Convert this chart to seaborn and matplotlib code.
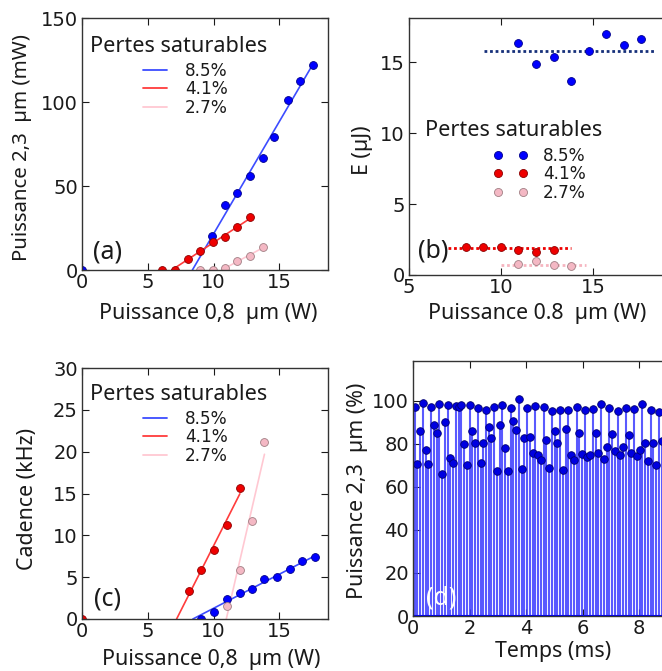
import numpy as np
import matplotlib
matplotlib.use("Agg")
import matplotlib.pyplot as plt
from matplotlib.lines import Line2D
import seaborn as sns

# ------------------------------------------------------------------ data
series = ["8.5%", "4.1%", "2.7%"]

# (a) Puissance 2,3 µm (mW) vs Puissance 0,8 µm (W)
a_x_85 = [0.0, 9.92, 10.89, 11.82, 12.78, 13.75, 14.63, 15.65, 16.6, 17.54]
a_y_85 = [0.0, 20.4, 38.6, 45.6, 56.0, 66.6, 79.4, 101.4, 112.6, 122.0]
a_x_41 = [6.1, 7.09, 8.05, 8.99, 9.95, 10.89, 11.82, 12.78]
a_y_41 = [0.0, 0.0, 6.4, 11.6, 16.4, 19.6, 25.4, 31.6]
a_x_27 = [8.99, 9.95, 10.89, 11.82, 12.78, 13.75]
a_y_27 = [0.0, 0.0, 1.0, 5.6, 8.6, 13.4]

# (b) E (µJ) vs Puissance 0.8 µm (W)
b_x_85 = [10.94, 11.92, 12.86, 13.82, 14.78, 15.72, 16.68, 17.63]
b_y_85 = [16.34, 14.88, 15.33, 13.69, 15.75, 17.0, 16.2, 16.62]
b_x_41 = [8.08, 9.04, 9.98, 10.94, 11.92, 12.86]
b_y_41 = [1.97, 2.0, 2.0, 1.74, 1.64, 1.78]
b_x_27 = [10.94, 11.92, 12.86, 13.82]
b_y_27 = [0.77, 0.99, 0.70, 0.61]
b_level = [15.8, 1.9, 0.68]                      # mean energy lines
b_span = [(9.1, 18.3), (7.1, 13.8), (10.0, 14.6)]  # extent of mean lines

# (c) Cadence (kHz) vs Puissance 0,8 µm (W)
c_x_85 = [9.06, 10.03, 10.99, 12.0, 12.94, 13.87, 14.86, 15.82, 16.76, 17.72]
c_y_85 = [0.0, 0.88, 2.36, 3.08, 3.6, 4.76, 5.04, 5.96, 6.96, 7.36]
c_x_41 = [0.0, 8.13, 9.06, 10.03, 10.99, 12.0]
c_y_41 = [0.0, 3.4, 5.8, 8.2, 11.28, 15.68]
c_x_27 = [11.01, 12.0, 12.94, 13.87]
c_y_27 = [1.6, 5.8, 11.76, 21.2]

# (d) pulse train: Puissance 2,3 µm (%) vs Temps (ms)
d_t0 = 0.059      # time of first pulse (ms)
d_period = 0.0971  # pulse period (ms)
d_peak = [97.2, 70.7, 86.0, 99.2, 77.4, 70.7, 97.4, 88.7, 85.3, 98.4,
          66.2, 90.4, 98.3, 73.5, 71.3, 97.7, 97.4, 98.0, 80.0, 70.2,
          98.0, 86.2, 80.3, 96.9, 71.3, 80.3, 95.7, 87.8, 82.6, 97.4,
          67.3, 89.0, 98.0, 78.1, 67.6, 96.7, 90.9, 86.4, 100.8, 68.5,
          82.6, 96.6, 83.1, 75.7, 97.5, 75.0, 72.7, 97.2, 82.0, 69.0,
          95.3, 86.2, 80.3, 95.8, 68.1, 86.8, 95.7, 75.0, 72.4, 97.2,
          85.1, 75.5, 95.7, 74.0, 75.0, 96.4, 85.1, 75.8, 98.4, 72.9,
          78.6, 96.9, 84.5, 76.9, 95.5, 74.7, 78.7, 96.9, 84.3, 75.8,
          96.1, 74.3, 77.2, 98.8, 80.6, 71.9, 95.8, 80.6, 70.4, 94.9,
          81.2]

# ------------------------------------------------------------------ style
sns.set_style("ticks")
plt.rcParams.update({
    "font.family": ["DejaVu Sans"],
    "xtick.direction": "in", "ytick.direction": "in",
    "xtick.top": True, "ytick.right": True,
    "xtick.major.size": 5, "ytick.major.size": 5,
    "xtick.major.width": 0.8, "ytick.major.width": 0.8,
    "xtick.labelsize": 14, "ytick.labelsize": 14,
    "xtick.color": "#1a1a1a", "ytick.color": "#1a1a1a",
    "axes.edgecolor": "#333333", "axes.linewidth": 1.0,
})
LBL = dict(family=["Noto Sans", "DejaVu Sans"], fontsize=15.4, color="#1a1a1a")
TITLE = dict(family=["Noto Sans"], fontsize=15.6, color="#1a1a1a")
LEG_FS = 12.2

C_BLUE, C_RED, C_PINK = "#0000ff", "#ee0000", "#f4b8c4"
E_BLUE, E_RED, E_PINK = "#00008b", "#8b0000", "#a07f84"
L_BLUE, L_RED, L_PINK = "#3c4cff", "#ff3c3c", "#ffc8d2"
mk = dict(s=32, linewidth=0.6, zorder=4)

W, H = 662, 671
fig = plt.figure(figsize=(W / 100, H / 100), dpi=100)

ax_a = fig.add_axes([82 / W, 1 - 270 / H, 246 / W, 252 / H])
ax_b = fig.add_axes([409 / W, 1 - 275 / H, 276 / W, 257 / H])
ax_c = fig.add_axes([82 / W, 1 - 619 / H, 246 / W, 251 / H])
ax_d = fig.add_axes([413 / W, 1 - 616 / H, 282.5 / W, 255 / H])


def px_to_axes(ax, px, py):
    """figure pixel (from top-left) -> axes fraction"""
    inv = ax.transAxes.inverted()
    return tuple(inv.transform((px, H - py)))


def fit_line(ax, xs, ys, color, label):
    xs = np.asarray(xs); ys = np.asarray(ys)
    m = ys > 0
    k, b0 = np.polyfit(xs[m], ys[m], 1)
    x0 = -b0 / k
    xx = np.array([x0, xs[m].max()])
    sns.lineplot(x=xx, y=k * xx + b0, ax=ax, color=color, lw=1.2,
                 label=label, estimator=None, sort=False, zorder=3)


def legend_block(ax, handles, title_xy, entry_xy, hl, htp, numpoints=1):
    tx, ty = px_to_axes(ax, *title_xy)
    ax.text(tx, ty, "Pertes saturables", transform=ax.transAxes,
            ha="left", va="center", **TITLE)
    ex, ey = px_to_axes(ax, *entry_xy)
    lg = ax.legend(handles, series, loc="upper left", bbox_to_anchor=(ex, ey),
                   frameon=False, fontsize=LEG_FS, numpoints=numpoints,
                   borderpad=0, borderaxespad=0, labelspacing=0.02,
                   handlelength=hl, handletextpad=htp)
    for t in lg.get_texts():
        t.set_color("#1a1a1a")
    return lg


def style_axis(ax):
    ax.tick_params(axis="x", pad=2)
    ax.tick_params(axis="y", pad=3)
    for s in ax.spines.values():
        s.set_zorder(6)


line_handles = [Line2D([], [], color=c, lw=1.3) for c in (L_BLUE, L_RED, L_PINK)]

# ---------------------------------------------------------------- (a)
for xs, ys, fc, ec, lc, lab in [(a_x_85, a_y_85, C_BLUE, E_BLUE, L_BLUE, series[0]),
                                (a_x_41, a_y_41, C_RED, E_RED, L_RED, series[1]),
                                (a_x_27, a_y_27, C_PINK, E_PINK, L_PINK, series[2])]:
    fit_line(ax_a, xs, ys, lc, lab)
    sns.scatterplot(x=xs, y=ys, ax=ax_a, color=fc, edgecolor=ec, **mk)
ax_a.set_xlim(0, 18.7); ax_a.set_ylim(0, 150)
ax_a.set_xticks([0, 5, 10, 15]); ax_a.set_yticks([0, 50, 100, 150])
ax_a.set_xlabel("Puissance 0,8  µm (W)", **LBL)
ax_a.set_ylabel("Puissance 2,3  µm (mW)", **{**LBL, "fontsize": 14.7})
ax_a.xaxis.set_label_coords(0.512, -0.171)
ax_a.yaxis.set_label_coords(-0.244, 0.485)
ax_a.text(0.104, 0.071, "(a)", transform=ax_a.transAxes, ha="center", va="center",
          family=["Noto Sans"], fontsize=18, color="#1a1a1a")
legend_block(ax_a, line_handles, (90, 47), (143, 62), 1.42, 1.07)
style_axis(ax_a)

# ---------------------------------------------------------------- (b)
dot_cols = ["#16307a", C_RED, "#f6b5c0"]
for (xs, ys, fc, ec), lev, (x0, x1), dc in zip(
        [(b_x_85, b_y_85, C_BLUE, E_BLUE), (b_x_41, b_y_41, C_RED, E_RED),
         (b_x_27, b_y_27, C_PINK, E_PINK)], b_level, b_span, dot_cols):
    sns.lineplot(x=[x0, x1], y=[lev, lev], ax=ax_b, color=dc, lw=2,
                 linestyle=(0, (1, 1)), estimator=None, zorder=3)
    sns.scatterplot(x=xs, y=ys, ax=ax_b, color=fc, edgecolor=ec, **mk)
ax_b.set_xlim(5, 20); ax_b.set_ylim(0, 18.1)
ax_b.set_xticks([5, 10, 15]); ax_b.set_yticks([0, 5, 10, 15])
ax_b.set_xlabel("Puissance 0.8  µm (W)", **LBL)
ax_b.set_ylabel("E (µJ)", **LBL)
ax_b.xaxis.set_label_coords(0.463, -0.148)
ax_b.yaxis.set_label_coords(-0.170, 0.486)
ax_b.text(0.087, 0.093, "(b)", transform=ax_b.transAxes, ha="center", va="center",
          family=["Noto Sans"], fontsize=18, color="#1a1a1a", zorder=5)
hb = [Line2D([], [], ls="none", marker="o", markersize=5.8, markerfacecolor=fc,
             markeredgecolor=ec, markeredgewidth=0.6)
      for fc, ec in ((C_BLUE, E_BLUE), (C_RED, E_RED), (C_PINK, E_PINK))]
legend_block(ax_b, hb, (425, 130), (493, 147), 2.08, 0.88, numpoints=2)
style_axis(ax_b)

# ---------------------------------------------------------------- (c)
for xs, ys, fc, ec, lc, lab in [(c_x_85, c_y_85, C_BLUE, E_BLUE, L_BLUE, series[0]),
                                (c_x_41, c_y_41, C_RED, E_RED, L_RED, series[1]),
                                (c_x_27, c_y_27, C_PINK, E_PINK, L_PINK, series[2])]:
    fit_line(ax_c, xs, ys, lc, lab)
    sns.scatterplot(x=xs, y=ys, ax=ax_c, color=fc, edgecolor=ec, **mk)
ax_c.set_xlim(0, 18.7); ax_c.set_ylim(0, 30)
ax_c.set_xticks([0, 5, 10, 15]); ax_c.set_yticks(range(0, 31, 5))
ax_c.set_xlabel("Puissance 0,8  µm (W)", **LBL)
ax_c.set_ylabel("Cadence (kHz)", **LBL)
ax_c.xaxis.set_label_coords(0.527, -0.163)
ax_c.yaxis.set_label_coords(-0.22, 0.478)
ax_c.text(0.104, 0.08, "(c)", transform=ax_c.transAxes, ha="center", va="center",
          family=["Noto Sans"], fontsize=18, color="#1a1a1a")
legend_block(ax_c, line_handles, (90, 395), (143, 410), 1.42, 1.07)
style_axis(ax_c)

# ---------------------------------------------------------------- (d)
d_peak_arr = np.asarray(d_peak)
d_time = d_t0 + d_period * np.arange(len(d_peak_arr))
ax_d.vlines(d_time, 0, d_peak_arr, color="#3d3dff", lw=1.5, alpha=0.85, zorder=2)
ax_d.axhline(0, color="#0000ff", lw=1.5, zorder=3)
sns.scatterplot(x=d_time, y=d_peak_arr, ax=ax_d, color="#0000e0", edgecolor="#000070",
                s=30, linewidth=0.6, zorder=4)
ax_d.set_xlim(0, 10); ax_d.set_ylim(0, 118.6)
ax_d.set_xticks([0, 2, 4, 6, 8]); ax_d.set_yticks(range(0, 101, 20))
ax_d.set_xlabel("Temps (ms)", **LBL)
ax_d.set_ylabel("Puissance 2,3  µm (%)", **LBL)
ax_d.xaxis.set_label_coords(0.497, -0.14)
ax_d.yaxis.set_label_coords(-0.198, 0.491)
ax_d.text(0.099, 0.07, "(d)", transform=ax_d.transAxes, ha="center", va="center",
          family=["Noto Sans"], fontsize=18, color="white", zorder=7)
style_axis(ax_d)

for ax in (ax_a, ax_b, ax_c, ax_d):
    for lab in (ax.xaxis.label, ax.yaxis.label):
        lab.set_verticalalignment("center")
        lab.set_horizontalalignment("center")

fig.savefig("out.png", dpi=100)
